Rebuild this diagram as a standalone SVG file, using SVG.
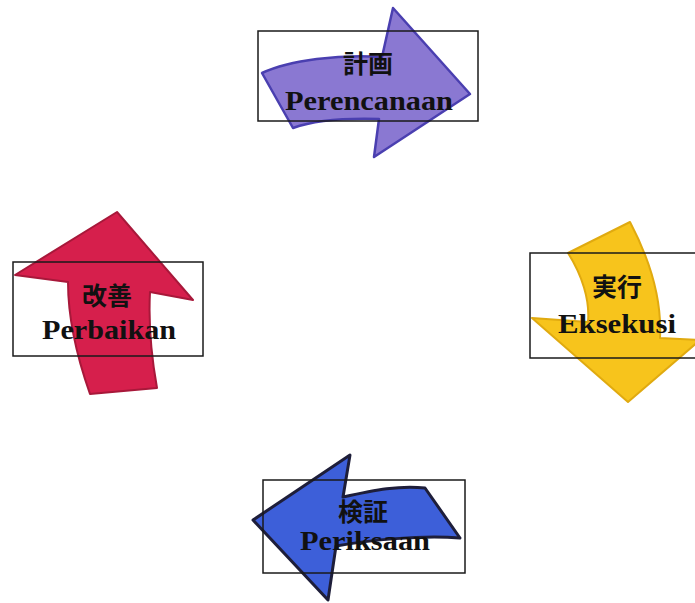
<svg xmlns="http://www.w3.org/2000/svg" width="695" height="603" viewBox="0 0 695 603">
<style>
.box{fill:none;stroke:#1a1a1a;stroke-width:1.5}
.cjk{font-family:"Noto Sans CJK JP","Noto Sans CJK SC",sans-serif;font-size:25px;font-weight:bold;fill:#111;text-anchor:middle}
.lat{font-family:"Liberation Serif","Times New Roman",serif;font-weight:bold;font-size:27px;fill:#111}
.arrow{stroke-linejoin:round}
</style>
<rect width="695" height="603" fill="#ffffff"/>
<g id="connectors"></g>
<g id="perencanaan">
<path class="arrow" d="M262,73 C290,60 340,54 382,57 L393,8 L470,94 L374,157 L379,119 C345,118 315,120 293,128 Z" fill="#8A78D2" stroke="#4A3FB0" stroke-width="2.5"/>
<rect class="box" x="258" y="31" width="220" height="90"/>
<text class="cjk" x="368" y="73">計画</text>
<text class="lat" x="285" y="110" textLength="168" lengthAdjust="spacingAndGlyphs">Perencanaan</text>
</g>
<g id="eksekusi">
<path class="arrow" d="M568,253 L630,222 C650,260 662,300 660,338 L700,340 L628,402 L532,318 L588,322 C590,300 582,275 568,253 Z" fill="#F7C41C" stroke="#E0AA10" stroke-width="2"/>
<rect class="box" x="530" y="253" width="180" height="105"/>
<text class="cjk" x="617" y="296">実行</text>
<text class="lat" x="558" y="333" textLength="118" lengthAdjust="spacingAndGlyphs">Eksekusi</text>
</g>
<g id="periksaan">
<path class="arrow" d="M350,455 L343,497 C375,490 400,485 425,488 L460,538 C420,535 370,540 336,546 L328,600 L253,520 Z" fill="#3D5FD9" stroke="#1E1E3A" stroke-width="3"/>
<rect class="box" x="263" y="480" width="202" height="93"/>
<text class="cjk" x="363" y="521">検証</text>
<text class="lat" x="300" y="550" textLength="130" lengthAdjust="spacingAndGlyphs">Periksaan</text>
</g>
<g id="perbaikan">
<path class="arrow" d="M117,212 L193,300 L150,292 C148,330 152,360 157,388 L90,394 C78,360 68,320 68,282 L15,275 Z" fill="#D61F4C" stroke="#A8183A" stroke-width="2"/>
<rect class="box" x="13" y="262" width="190" height="94"/>
<text class="cjk" x="107" y="305">改善</text>
<text class="lat" x="42" y="339" textLength="134" lengthAdjust="spacingAndGlyphs">Perbaikan</text>
</g>
</svg>
